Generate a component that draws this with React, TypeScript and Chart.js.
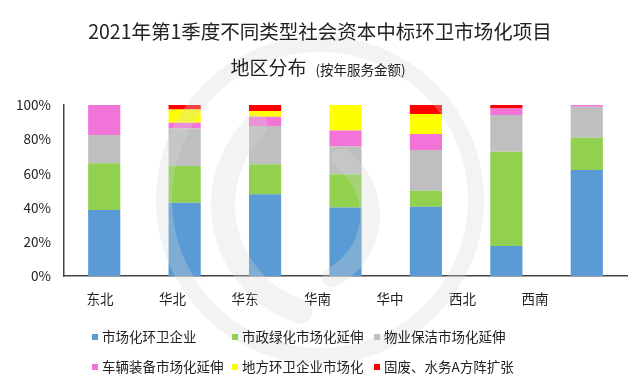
import React, { useEffect, useRef } from "react";
import { Chart, registerables } from "chart.js";

Chart.register(...registerables);

const categories = ["东北", "华北", "华东", "华南", "华中", "西北", "西南"];
const seriesNames = [
  "市场化环卫企业",
  "市政绿化市场化延伸",
  "物业保洁市场化延伸",
  "车辆装备市场化延伸",
  "地方环卫企业市场化",
  "固废、水务A方阵扩张",
];
const blueValues = [38.6, 42.9, 47.8, 40.0, 40.5, 17.5, 62.0];
const greenValues = [27.3, 21.4, 17.5, 19.5, 9.4, 55.2, 18.9];
const grayValues = [16.6, 22.0, 22.4, 16.2, 23.8, 21.4, 18.1];
const pinkValues = [17.5, 3.3, 5.5, 9.4, 9.4, 3.9, 1.0];
const yellowValues = [0, 7.8, 3.3, 14.9, 11.7, 0, 0];
const redValues = [0, 2.6, 3.5, 0, 5.2, 2.0, 0];
const yTicks = [0, 20, 40, 60, 80, 100];

const colors = ["#5B9BD5", "#92D050", "#BFBFBF", "#F274D8", "#FFFF00", "#FF0000"];
const FONT = "'Noto Sans CJK SC', 'Noto Sans', sans-serif";

const titleLine1 = "2021年第1季度不同类型社会资本中标环卫市场化项目";
const titleLine2a = "地区分布";
const titleLine2b = "(按年服务金额)";

// category label axis (labels in reference are spaced tighter than the bars)
const LABEL_AXIS_MIN = -0.497;
const LABEL_AXIS_MAX = 7.27;

const watermarkPlugin = {
  id: "watermark",
  afterDatasetsDraw(chart: any) {
    const ctx = chart.ctx as CanvasRenderingContext2D;
    ctx.save();
    ctx.strokeStyle = "rgba(211,216,211,0.3)";
    ctx.lineCap = "round";
    ctx.lineWidth = 16;
    ctx.beginPath();
    ctx.arc(320, 200, 156, 0, Math.PI * 2);
    ctx.stroke();
    ctx.lineWidth = 24;
    ctx.beginPath();
    ctx.arc(335, 205, 112, Math.PI * 1.25, Math.PI * 0.6, true);
    ctx.stroke();
    ctx.lineWidth = 20;
    ctx.beginPath();
    ctx.arc(300, 215, 70, Math.PI * 1.7, Math.PI * 0.35, false);
    ctx.stroke();
    ctx.restore();
  },
};

const overlayPlugin = {
  id: "overlay",
  afterDraw(chart: any) {
    const ctx = chart.ctx as CanvasRenderingContext2D;
    ctx.save();
    ctx.fillStyle = "#222";
    ctx.textBaseline = "middle";
    ctx.textAlign = "center";
    ctx.font = `19.5px ${FONT}`;
    ctx.fillText(titleLine1, 320, 32);

    ctx.textAlign = "left";
    ctx.font = `19px ${FONT}`;
    const w1 = ctx.measureText(titleLine2a).width;
    ctx.font = `13.5px ${FONT}`;
    const w2 = ctx.measureText(titleLine2b).width;
    const gap = 9;
    const startX = 318 - (w1 + gap + w2) / 2;
    ctx.font = `19px ${FONT}`;
    ctx.fillText(titleLine2a, startX, 68);
    ctx.font = `13.5px ${FONT}`;
    ctx.fillText(titleLine2b, startX + w1 + gap, 70);

    // legend grid
    const colX = [92, 232, 374];
    const rowY = [337, 367];
    ctx.font = `13.5px ${FONT}`;
    chart.data.datasets.forEach((ds: any, i: number) => {
      const cx = colX[i % 3];
      const cy = rowY[Math.floor(i / 3)];
      ctx.fillStyle = ds.backgroundColor;
      ctx.fillRect(cx, cy - 3, 6, 6);
      ctx.fillStyle = "#222";
      ctx.fillText(ds.label, cx + 10, cy);
    });
    ctx.restore();
  },
};

export default function App() {
  const ref = useRef<HTMLCanvasElement>(null);
  useEffect(() => {
    if (!ref.current) return;
    const seriesValues = [blueValues, greenValues, grayValues, pinkValues, yellowValues, redValues];
    const chart = new Chart(ref.current, {
      type: "bar",
      data: {
        labels: categories,
        datasets: seriesNames.map((name, i) => ({
          label: name,
          data: seriesValues[i],
          backgroundColor: colors[i],
          borderWidth: 0,
          barPercentage: 0.4,
          categoryPercentage: 1,
          xAxisID: "x",
          yAxisID: "y",
        })),
      },
      options: {
        animation: false,
        responsive: false,
        layout: { padding: { top: 105, left: 0, right: 13, bottom: 72 } },
        plugins: {
          legend: { display: false },
          title: { display: false },
          tooltip: { enabled: false },
        },
        scales: {
          x: {
            type: "category",
            stacked: true,
            display: false,
            afterFit: (s: any) => {
              s.height = 0;
            },
          },
          x2: {
            type: "linear",
            position: "bottom",
            weight: 1,
            offset: false,
            bounds: "data",
            min: LABEL_AXIS_MIN,
            max: LABEL_AXIS_MAX,
            grid: { display: false, drawTicks: false, offset: false },
            border: { display: true, color: "#444", width: 1.5 },
            afterBuildTicks: (s: any) => {
              s.ticks = categories.map((_, i) => ({ value: i }));
            },
            ticks: {
              padding: 15,
              color: "#222",
              font: { size: 13.5, family: FONT },
              maxRotation: 0,
              autoSkip: false,
              callback: (v: any) => categories[v] ?? "",
            },
            afterFit: (s: any) => {
              s.height = 40;
            },
          },
          y: {
            stacked: true,
            min: 0,
            max: 100,
            grid: { display: false, drawTicks: false },
            border: { display: true, color: "#444", width: 1.5 },
            afterBuildTicks: (s: any) => {
              s.ticks = yTicks.map((v) => ({ value: v }));
            },
            ticks: {
              padding: 13,
              color: "#222",
              font: { size: 13.5, family: FONT },
              callback: (v: any) => `${v}%`,
            },
            afterFit: (s: any) => {
              s.width = 64;
            },
          },
        },
      },
      plugins: [watermarkPlugin, overlayPlugin],
    });
    return () => chart.destroy();
  }, []);
  return (
    <div style={{ position: "fixed", left: 0, top: 0, width: 640, height: 388, background: "#fff" }}>
      <canvas ref={ref} width={640} height={388} />
    </div>
  );
}
